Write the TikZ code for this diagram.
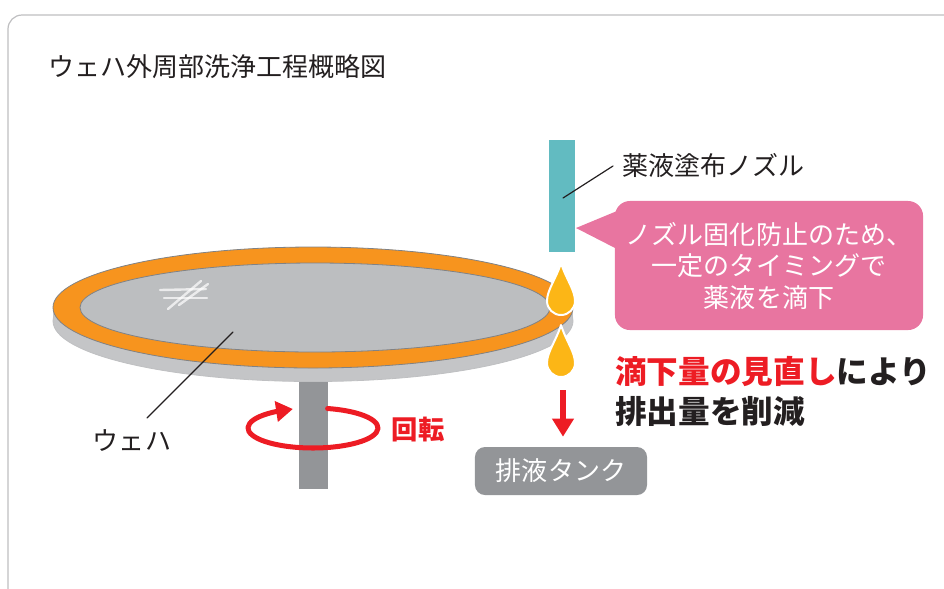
\documentclass[tikz,border=0pt]{standalone}
\usepackage{fontspec}
\setmainfont{Noto Sans CJK JP}
\usepackage{tikz}
\usetikzlibrary{arrows.meta, bending, positioning}
\usepackage{xcolor}
\definecolor{framegray}{RGB}{190, 190, 192}
\definecolor{textblack}{RGB}{35, 31, 32}
\definecolor{ringorange}{RGB}{247, 148, 30}
\definecolor{wafergray}{RGB}{188, 190, 192}
\definecolor{sidegray}{RGB}{196, 197, 199}
\definecolor{edgegray}{RGB}{128, 130, 133}
\definecolor{shaftgray}{RGB}{147, 149, 152}
\definecolor{nozzleteal}{RGB}{98, 187, 193}
\definecolor{calloutpink}{RGB}{232, 117, 160}
\definecolor{alertred}{RGB}{237, 28, 36}
\definecolor{dropyellow}{RGB}{252, 182, 22}

\begin{document}
\begin{tikzpicture}[x=0.025cm, y=-0.025cm, line cap=round, line join=round, >=Triangle,
    leader/.style={textblack, line width=0.03cm},
    plainlabel/.style={inner sep=0, text=textblack, font=\fontsize{18.5}{18.5}\selectfont},
    drop/.style={fill=dropyellow, draw=white, line width=0.05cm}]
    	\useasboundingbox (0,0) rectangle (944,588);
    	\clip (0,0) rectangle (944,588);
    	\draw [framegray, line width=0.03cm, rounded corners=0.35cm] (8,640)--(8,15)--(990,15);

    	\node [plainlabel, anchor=west] (title) at (48,67) {ウェハ外周部洗浄工程概略図};

    	% shaft and wafer
    	\coordinate (Dtop) at (313,307.5);
    	\coordinate (Dside) at (313,321);
    	\coordinate (Dinner) at (315,307.5);
    	\fill [shaftgray] (299,360) rectangle (328,489);
    	\fill [sidegray] (53,307.5) rectangle (573,321);
    	\filldraw [fill=sidegray, draw=edgegray!50, line width=0.02cm] (Dside) ellipse [x radius=260, y radius=60.5];
    	\filldraw [fill=ringorange, draw=edgegray, line width=0.02cm] (Dtop) ellipse [x radius=260, y radius=60.5];
    	\filldraw [fill=wafergray, draw=edgegray, line width=0.02cm] (Dinner) ellipse [x radius=235, y radius=44.5];

    	\begin{scope}[white, line width=0.06cm, opacity=0.7]
    		\draw (160,290)--(206,289);
    		\draw (164,298)--(207,298);
    		\draw (168,309)--(201,281);
    		\draw (179,305)--(208,284);
    	\end{scope}

    	\coordinate (waferpt) at (233,332);
    	\coordinate (waferend) at (147,418);
    	\draw [leader] (waferpt)--(waferend);
    	\node [plainlabel] (waferlabel) at (132,441) {ウェハ};

    	% rotation
    	\coordinate (Rcenter) at (313,428);
    	\coordinate (rotstart) at (327.6,408.5);
    	\draw [alertred, line width=0.125cm, -{Triangle[length=0.42cm, width=0.5cm]}] (rotstart) arc [start angle=-77, end angle=252, x radius=65, y radius=20];
    	\node [inner sep=0, text=alertred, font=\bfseries\fontsize{18.7}{18.7}\selectfont] (rotlabel) at (418,430) {回転};

    	% nozzle and drops
    	\fill [nozzleteal] (549,140) rectangle (575,252);
    	\coordinate (nozzlept) at (563,198);
    	\coordinate (nozzleend) at (613,166);
    	\draw [leader] (nozzlept)--(nozzleend);
    	\node [plainlabel, anchor=west] (nozzlelabel) at (622,166) {薬液塗布ノズル};

    	\foreach \t in {263,325}
    		\draw [drop] (561,\t) .. controls (566,\t+16) and (575,\t+27) .. (575,\t+38)
    			arc [start angle=0, end angle=180, radius=14]
    			.. controls (547,\t+27) and (556,\t+16) .. (561,\t) -- cycle;

    	\node [fill=shaftgray, rounded corners=0.25cm, minimum width=4.3cm, minimum height=1.2cm, inner sep=0,
    		text=white, font=\fontsize{18.5}{18.5}\selectfont] (tank) at (561,471) {排液タンク};
    	\coordinate (drain) at (563,390);
    	\draw [alertred, line width=0.14cm, line cap=butt, shorten >=0.25cm, -{Triangle[length=0.45cm, width=0.52cm]}] (drain)--(drain |- tank.north);

    	% callout
    	\node [fill=calloutpink, rounded corners=0.375cm, minimum width=7.7cm, minimum height=3.225cm, inner sep=0,
    		text=white, align=center, font=\fontsize{18.5}{22.4}\selectfont] (callout) at (769,265.5)
    		{ノズル固化防止のため、\\一定のタイミングで\\薬液を滴下};
    	\coordinate (ptrtip) at (576,228);
    	\fill [calloutpink] (617,211)--(ptrtip)--(617,249)--cycle;

    	\node [inner sep=0, anchor=north west, align=left, text=textblack,
    		font=\bfseries\fontsize{22.5}{28.5}\selectfont] (message) at (615,356)
    		{\textcolor{alertred}{滴下量の見直し}により\\排出量を削減};
\end{tikzpicture}
\end{document}
